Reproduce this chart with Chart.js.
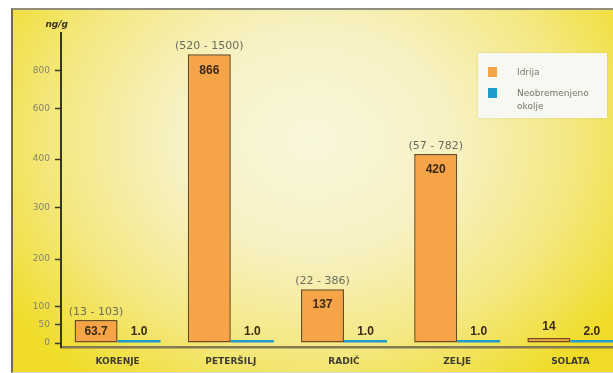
<!DOCTYPE html>
<html>
<head>
<meta charset="utf-8">
<script src="https://cdn.jsdelivr.net/npm/chart.js@4.4.0/dist/chart.umd.min.js"></script>
<style>
  html, body { margin: 0; padding: 0; background: #fff; width: 613px; height: 373px; overflow: hidden; }
  #panel {
    position: absolute; left: 11px; top: 8px; width: 640px; height: 362px;
    border-top: 2px solid #918f7c; border-left: 2px solid #6f6b4c; border-bottom: 1px solid #d9d8cc;
    background: radial-gradient(ellipse 370px 300px at 300px 130px, #f9f7dc 0%, #f7f1c2 38%, #f4e882 70%, #f0dc28 100%);
  }
  #chart { position: absolute; left: 0; top: 0; }
  #legend {
    position: absolute; left: 478px; top: 53px; width: 129px; height: 65px;
    background: #f8f8f3; box-shadow: 0 0 2px rgba(120, 110, 40, 0.25);
    box-sizing: border-box; padding-top: 13px;
    font-family: "DejaVu Sans", sans-serif; font-size: 9px; line-height: 13px; color: #77776c;
  }
  #legend .item { display: flex; margin-left: 10px; margin-bottom: 8px; width: 110px; }
  #legend .swatch { flex: none; width: 9px; height: 10px; margin: 1px 20px 0 0; }
</style>
</head>
<body>
<div id="panel">
  <canvas id="chart" width="640" height="362"></canvas>
</div>
<div id="legend"></div>
<script>
const categories = ["KORENJE", "PETERŠILJ", "RADIČ", "ZELJE", "SOLATA"];
const idrijaValues = [63.7, 866, 137, 420, 14];
const okoljeValues = [1.0, 1.0, 1.0, 1.0, 2.0];
const rangeLow = [13, 520, 22, 57, null];
const rangeHigh = [103, 1500, 386, 782, null];
const yTicks = [0, 50, 100, 200, 300, 400, 600, 800];

// uneven y axis: each pair is [value, share of axis height]
const axisBreaks = [
    [-8, 0], [0, 0.0127], [50, 0.0701], [100, 0.1280], [200, 0.2800],
    [300, 0.4427], [400, 0.5987], [600, 0.7580], [800, 0.8790], [950, 1]
];

class BrokenScale extends Chart.LinearScale {
    static id = "broken";
    static defaults = Chart.LinearScale.defaults;

    toDecimal(v) {
        const b = axisBreaks;
        if (v <= b[0][0]) return 0;
        for (let i = 1; i < b.length; i++) {
            if (v <= b[i][0]) {
                const t = (v - b[i - 1][0]) / (b[i][0] - b[i - 1][0]);
                return b[i - 1][1] + t * (b[i][1] - b[i - 1][1]);
            }
        }
        return 1;
    }
    fromDecimal(d) {
        const b = axisBreaks;
        for (let i = 1; i < b.length; i++) {
            if (d <= b[i][1]) {
                const t = (d - b[i - 1][1]) / (b[i][1] - b[i - 1][1]);
                return b[i - 1][0] + t * (b[i][0] - b[i - 1][0]);
            }
        }
        return b[b.length - 1][0];
    }
    getPixelForValue(v) {
        if (v === null || v === undefined) return NaN;
        return this.getPixelForDecimal(this.toDecimal(v));
    }
    getValueForPixel(p) {
        return this.fromDecimal(this.getDecimalForPixel(p));
    }
}
Chart.register(BrokenScale);

const barLabels = {
    id: "barLabels",
    afterDatasetsDraw(chart) {
        const ctx = chart.ctx;
        const idrija = chart.getDatasetMeta(0).data;
        const okolje = chart.getDatasetMeta(1).data;
        ctx.save();
        ctx.textAlign = "center";
        ctx.textBaseline = "middle";
        idrija.forEach(function(bar, i) {
            const h = bar.base - bar.y;
            ctx.font = "bold 12px 'Liberation Sans'";
            ctx.fillStyle = "#3a2a12";
            const ly = h > 20 ? Math.min(bar.y + 16, (bar.y + bar.base) / 2) : bar.y - 11;
            ctx.fillText(String(idrijaValues[i]), bar.x, ly);
            if (rangeLow[i] !== null) {
                ctx.font = "11px 'DejaVu Sans'";
                ctx.fillStyle = "#6b6b5e";
                ctx.fillText("(" + rangeLow[i] + " - " + rangeHigh[i] + ")", bar.x, bar.y - 8);
            }
        });
        ctx.font = "bold 12px 'Liberation Sans'";
        ctx.fillStyle = "#3a2a12";
        okolje.forEach(function(bar, i) {
            ctx.fillText(okoljeValues[i].toFixed(1), bar.x, bar.y - 8);
        });

        // unit above the y axis
        const y = chart.scales.y;
        ctx.font = "italic bold 9px 'DejaVu Sans'";
        ctx.fillStyle = "#3a3526";
        ctx.textAlign = "right";
        ctx.fillText("ng/g", y.right + 7, y.top - 8);
        ctx.restore();
    }
};

const htmlLegend = {
    id: "htmlLegend",
    afterUpdate(chart) {
        const box = document.getElementById("legend");
        box.innerHTML = "";
        const items = chart.options.plugins.legend.labels.generateLabels(chart);
        items.forEach(function(item) {
            const row = document.createElement("div");
            row.className = "item";
            const sw = document.createElement("span");
            sw.className = "swatch";
            sw.style.background = item.fillStyle;
            const txt = document.createElement("span");
            txt.textContent = item.text;
            row.appendChild(sw);
            row.appendChild(txt);
            box.appendChild(row);
        });
    }
};

new Chart(document.getElementById("chart"), {
    type: "bar",
    data: {
        labels: categories,
        datasets: [{
            label: "Idrija",
            data: idrijaValues,
            backgroundColor: "#f7a348",
            borderColor: "#6e4b22",
            borderWidth: 1.5,
            borderSkipped: false
        }, {
            label: "Neobremenjeno okolje",
            data: okoljeValues,
            backgroundColor: "#1f9ccc",
            borderWidth: 0,
            minBarLength: 3
        }]
    },
    options: {
        responsive: false,
        animation: false,
        events: [],
        layout: { padding: { top: 23, right: 26, bottom: 0, left: 0 } },
        datasets: {
            bar: { categoryPercentage: 0.76, barPercentage: 1.0 }
        },
        plugins: {
            legend: { display: false },
            tooltip: { enabled: false }
        },
        scales: {
            x: {
                afterFit: function(scale) { scale.height = 25; },
                grid: { display: false },
                border: { display: true, color: "#857b52", width: 2.5 },
                ticks: {
                    padding: 1,
                    color: "#3e3c34",
                    font: { family: "DejaVu Sans", size: 9, weight: "bold" }
                }
            },
            y: {
                type: "broken",
                min: -8,
                max: 950,
                afterFit: function(scale) { scale.width = 48; },
                afterBuildTicks: function(scale) {
                    scale.ticks = yTicks.map(function(v) { return { value: v }; });
                },
                grid: { drawOnChartArea: false, drawTicks: true, tickLength: 6, tickColor: "#3d3a2a", tickWidth: 1.5 },
                border: { display: true, color: "#3a3626", width: 2 },
                ticks: {
                    padding: 5,
                    color: "#85836f",
                    font: { family: "DejaVu Sans", size: 9 },
                    callback: function(v) { return String(v); }
                }
            }
        }
    },
    plugins: [barLabels, htmlLegend]
});
</script>
</body>
</html>
